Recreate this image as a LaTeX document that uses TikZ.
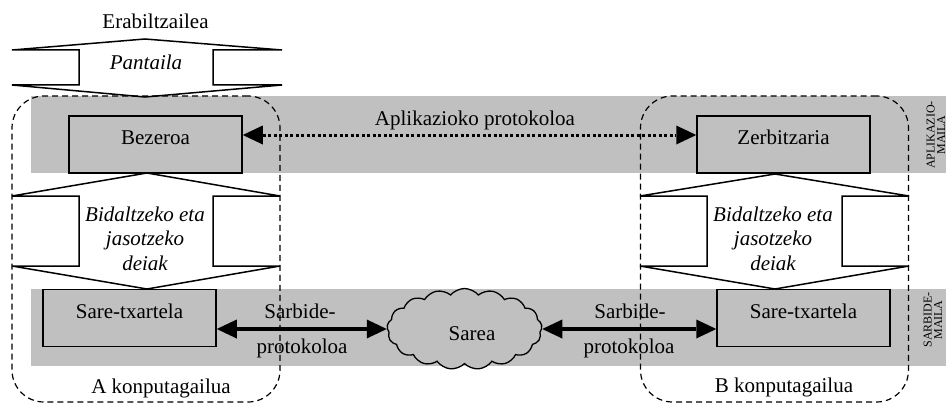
\documentclass[tikz,border=0pt]{standalone}
\usepackage{fontspec}
\setmainfont{Liberation Serif}
\usetikzlibrary{arrows.meta,shapes.symbols}
\definecolor{layergray}{RGB}{192,192,192}
\tikzset{
  lbl/.style={font=\fontsize{21}{25}\selectfont, inner sep=0pt},
  ilbl/.style={font=\fontsize{21}{24.5}\selectfont\itshape, inner sep=0pt, align=center},
  sidelbl/.style={font=\fontsize{12}{10.5}\selectfont, rotate=90, align=center, inner sep=0pt},
  layer/.style={fill=layergray},
  box/.style={draw, line width=1.5pt, fill=layergray, minimum width=173pt,
    minimum height=57pt, inner sep=0pt, font=\fontsize{21}{25}\selectfont,
    text height=15pt, text depth=15pt},
  hostframe/.style={draw, dash pattern=on 6pt off 4pt, line width=1.2pt,
    rounded corners=32pt, minimum width=268pt, minimum height=306pt, inner sep=0pt},
  blockarrow/.style={draw, fill=white, line width=1.5pt, line join=miter},
  bigtip/.tip={Triangle[length=20pt,width=19pt,line width=0pt]},
  netlink/.style={line width=4pt, bigtip-bigtip},
  applink/.style={line width=3pt, dash pattern=on 3pt off 2.5pt, bigtip-bigtip},
}
\begin{document}
\begin{tikzpicture}[x=1pt,y=-1pt]
  \path[use as bounding box] (0,0) rectangle (946,404);
  \fill[white] (0,0) rectangle (946,404);
  \clip (0,0) rectangle (946,404);

  % protocol layers
  \fill[layer] (31,96) rectangle (946,173);
  \fill[layer] (31,289) rectangle (946,366);

  % user and screen
  \node[lbl] (user) at (155.5,21) {Erabiltzailea};
  \draw[blockarrow] (145,39) -- (282,50) -- (213,50) -- (213,85) -- (282,85)
    -- (145,97) -- (12,85) -- (79,85) -- (79,50) -- (12,50) -- cycle;
  \node[ilbl] (screen) at (146,62) {Pantaila};

  % system-call arrows between application and network card
  \draw[blockarrow] (147,173) -- (280,196) -- (213,196) -- (213,266) -- (280,266)
    -- (147,289) -- (12,266) -- (79,266) -- (79,196) -- (12,196) -- cycle;
  \node[ilbl] (callsA) at (145,238.5) {Bidaltzeko eta\\jasotzeko\\deiak};
  \draw[blockarrow] (775,174) -- (909,196) -- (842,196) -- (842,266) -- (909,266)
    -- (775,289) -- (640,266) -- (707,266) -- (707,196) -- (640,196) -- cycle;
  \node[ilbl] (callsB) at (773,238.5) {Bidaltzeko eta\\jasotzeko\\deiak};

  % hosts
  \node[hostframe] (hostA) at (146,249) {};
  \node[hostframe] (hostB) at (774.5,249) {};
  \node[lbl] (hostAlbl) at (161,388) {A konputagailua};
  \node[lbl] (hostBlbl) at (784,387) {B konputagailua};

  % application and network-card boxes
  \node[box] (client) at (155.5,144.5) {Bezeroa};
  \node[box] (server) at (783.5,144.5) {Zerbitzaria};
  \node[box] (nicA) at (129.5,318) {Sare-txartela};
  \node[box] (nicB) at (803.5,318) {Sare-txartela};

  % network cloud
  \node[cloud, draw, fill=layergray, line width=1.3pt, cloud puffs=17,
    cloud puff arc=100, aspect=1.9, minimum width=155pt, minimum height=81pt,
    inner sep=0pt,
    label={[lbl, xshift=7.5pt, yshift=-5pt]center:Sarea}] (net) at (464.5,329) {};

  % protocols
  \draw[applink] ([yshift=9.5pt]client.east) -- ([yshift=9.5pt]server.west);
  \node[lbl] (applbl) at (475,120) {Aplikazioko protokoloa};
  \draw[netlink] (nicA.east |- net.west) -- (net.west);
  \draw[netlink] (net.east) -- (nicB.west |- net.east);
  \node[lbl] (accA1) at (300,311) {Sarbide-};
  \node[lbl] (accA2) at (302,348) {protokoloa};
  \node[lbl] (accB1) at (630,311) {Sarbide-};
  \node[lbl] (accB2) at (629,348) {protokoloa};

  % layer names
  \node[sidelbl] (appLayer) at (936,135) {APLIKAZIO-\\MAILA};
  \node[sidelbl] (accLayer) at (933,320) {SARBIDE-\\MAILA};
\end{tikzpicture}
\end{document}
